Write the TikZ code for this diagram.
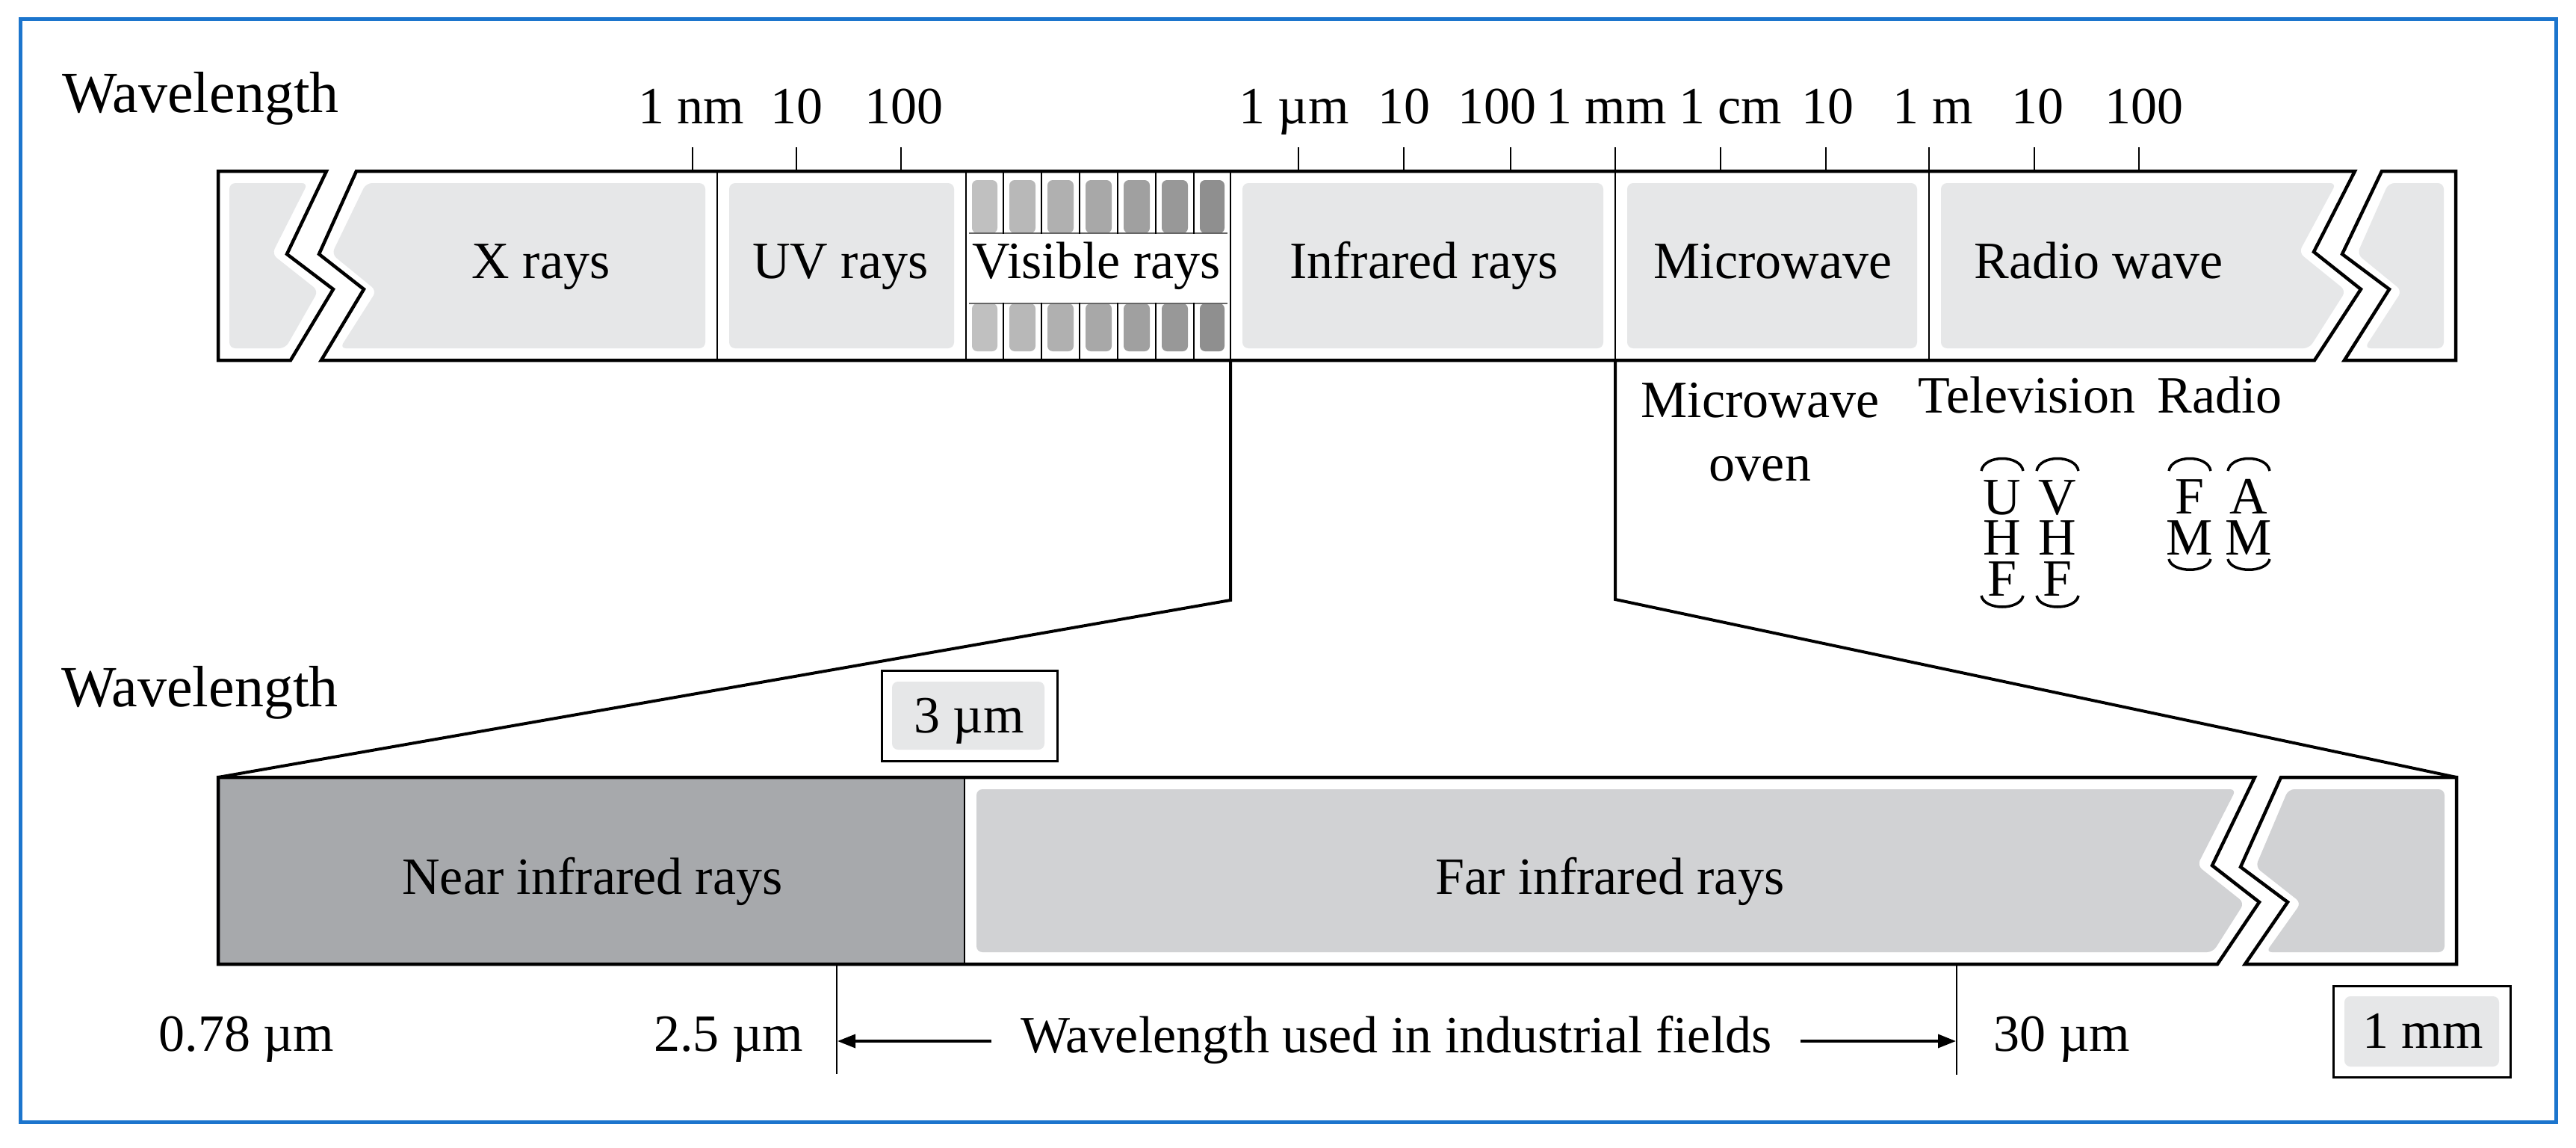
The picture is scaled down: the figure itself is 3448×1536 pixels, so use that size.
\documentclass[tikz,border=0pt]{standalone}
\usepackage{fontspec}
\setmainfont{Liberation Serif}
\usetikzlibrary{arrows.meta}
\definecolor{frameblue}{RGB}{28,117,205}
\definecolor{barfill}{RGB}{230,231,232}
\definecolor{farfill}{RGB}{209,210,212}
\definecolor{nearfill}{RGB}{167,169,172}
\newcommand{\toparc}[1]{\draw[arcst] (#1-28,630) .. controls (#1-24,608) and (#1+24,608) .. (#1+28,630);}
\newcommand{\botarc}[3]{\draw[arcst] (#1-28,#2) .. controls (#1-24,#3) and (#1+24,#3) .. (#1+28,#2);}
\begin{document}
\begin{tikzpicture}[x=1pt,y=-1pt,
  lbl/.style={font=\fontsize{70}{76}\selectfont,inner sep=0pt,anchor=base},
  colst/.style={font=\fontsize{70}{54.5}\selectfont,inner sep=0pt,anchor=base,align=center},
  ttl/.style={font=\fontsize{78}{84}\selectfont,inner sep=0pt,anchor=base west},
  barline/.style={line width=4.5pt,line join=miter},
  divline/.style={line width=2.5pt},
  tickline/.style={line width=2.5pt},
  conn/.style={line width=4pt,line join=miter},
  arcst/.style={line width=3.5pt},
  boxst/.style={line width=3pt},
  arr/.style={line width=3.5pt,-{Triangle[length=24pt,width=18pt]}},
  rc/.style={rounded corners=8pt}]
\useasboundingbox (0,0) rectangle (3448,1536);
\fill[white] (0,0) rectangle (3448,1536);
\draw[frameblue,line width=5pt] (27,26) rectangle (3421,1501);

% ---------- top bar fills ----------
\fill[barfill,rc] (307,245) -- (412,245) -- (364,340) -- (426,389) -- (382,466) -- (307,466) -- cycle;
\fill[barfill,rc] (490,245) -- (944,245) -- (944,466) -- (455,466) -- (504,389) -- (444,340) -- cycle;
\fill[barfill,rc] (976,245) rectangle (1277,466);
\fill[barfill,rc] (1663,245) rectangle (2146,466);
\fill[barfill,rc] (2178,245) rectangle (2566,466);
\fill[barfill,rc] (2598,245) -- (3127,245) -- (3077,338) -- (3140,389) -- (3091,466) -- (2598,466) -- cycle;
\fill[barfill,rc] (3197,245) -- (3271,245) -- (3271,466) -- (3165,466) -- (3215,389) -- (3155,340) -- cycle;

% visible stripes
\foreach \xa/\xb/\g in {1293/1343/192,1343/1394/184,1394/1445/176,1445/1496/168,1496/1547/160,1547/1598/152,1598/1647/143}{
  \fill[fill={rgb,255:red,\g;green,\g;blue,\g},rounded corners=7pt] (\xa+8,241) rectangle (\xb-8,312);
  \fill[fill={rgb,255:red,\g;green,\g;blue,\g},rounded corners=7pt] (\xa+8,406) rectangle (\xb-8,470);
}
\fill[white] (1297,313) rectangle (1643,405);
\draw[black!60,line width=2.5pt] (1297,312) -- (1643,312);
\draw[black!60,line width=2.5pt] (1297,406) -- (1643,406);

% ---------- top bar outlines ----------
\draw[barline] (292,229) -- (437,229) -- (384,340) -- (446,387) -- (389,482) -- (292,482) -- cycle;
\draw[barline] (477,229) -- (3152,229) -- (3097,337) -- (3160,387) -- (3098,482) -- (430,482) -- (487,387) -- (427,340) -- cycle;
\draw[barline] (3188,229) -- (3287,229) -- (3287,482) -- (3138,482) -- (3198,387) -- (3135,340) -- cycle;

% dividers
\foreach \x in {960,1293,1647,2162,2582}{\draw[divline] (\x,229) -- (\x,482);}
\foreach \x in {1343,1394,1445,1496,1547,1598}{
  \draw[divline] (\x,229) -- (\x,313);
  \draw[divline] (\x,405) -- (\x,482);}

% ticks
\foreach \x in {927,1066,1206,1738,1879,2022,2162,2303,2444,2582,2723,2863}{\draw[tickline] (\x,197) -- (\x,229);}

% ---------- top labels ----------
\node[ttl] (wl1) at (83,150) {Wavelength};
\node[lbl] (t1) at (925,165) {1 nm};
\node[lbl] (t2) at (1066,165) {10};
\node[lbl] (t3) at (1210,165) {100};
\node[lbl] (t4) at (1732,165) {1 µm};
\node[lbl] (t5) at (1879,165) {10};
\node[lbl] (t6) at (2004,165) {100};
\node[lbl] (t7) at (2150,165) {1 mm};
\node[lbl] (t8) at (2316,165) {1 cm};
\node[lbl] (t9) at (2446,165) {10};
\node[lbl] (t10) at (2587,165) {1 m};
\node[lbl] (t11) at (2727,165) {10};
\node[lbl] (t12) at (2870,165) {100};

\node[lbl] (xr) at (724,372) {X rays};
\node[lbl] (uv) at (1125,372) {UV rays};
\node[lbl] (vis) at (1468,372) {Visible rays};
\node[lbl] (ir) at (1906,372) {Infrared rays};
\node[lbl] (mw) at (2373,372) {Microwave};
\node[lbl] (rw) at (2809,372) {Radio wave};

\node[lbl] (mwo1) at (2356,558) {Microwave};
\node[lbl] (mwo2) at (2356,643) {oven};
\node[lbl] (tv) at (2713,552) {Television};
\node[lbl] (rad) at (2971,552) {Radio};

\node[colst] (uhf) at (2680,797) {U\\H\\F};
\node[colst] (vhf) at (2754,797) {V\\H\\F};
\node[colst] (fm) at (2931,742) {F\\M};
\node[colst] (am) at (3010,742) {A\\M};
\toparc{2680}\toparc{2754}\toparc{2931}\toparc{3010}
\botarc{2680}{797}{817}\botarc{2754}{797}{817}
\botarc{2931}{748}{767}\botarc{3010}{748}{767}

% ---------- connectors ----------
\coordinate (visB) at (1647,482);
\coordinate (visK) at (1647,803);
\coordinate (lowTL) at (292,1040);
\coordinate (mmB) at (2162,482);
\coordinate (mmK) at (2162,802);
\coordinate (lowTR) at (3288,1040);
\draw[conn] (visB) -- (visK) -- (lowTL);
\draw[conn] (mmB) -- (mmK) -- (lowTR);

% ---------- lower bar ----------
\fill[nearfill] (294,1042) rectangle (1290,1288);
\fill[farfill,rc] (1307,1056) -- (2993,1056) -- (2941,1158) -- (3004,1208) -- (2962,1274) -- (1307,1274) -- cycle;
\fill[farfill,rc] (3063,1056) -- (3272,1056) -- (3272,1274) -- (3033,1274) -- (3080,1208) -- (3019,1160) -- cycle;
\draw[barline] (292,1040) -- (3018,1040) -- (2961,1158) -- (3024,1207) -- (2968,1290) -- (292,1290) -- cycle;
\draw[barline] (3053,1040) -- (3288,1040) -- (3288,1290) -- (3005,1290) -- (3062,1207) -- (2999,1160) -- cycle;
\draw[divline] (1291,1040) -- (1291,1290);

\node[ttl] (wl2) at (82,945) {Wavelength};

% 3 um box
\fill[barfill,rc] (1194,912) rectangle (1398,1003);
\draw[boxst] (1180,897) rectangle (1415,1018);
\node[lbl] (b3) at (1297,980) {3 µm};

\node[lbl] (nir) at (793,1196) {Near infrared rays};
\node[lbl] (fir) at (2155,1196) {Far infrared rays};

% bottom scale
\draw[divline] (1120,1290) -- (1120,1437);
\draw[divline] (2619,1290) -- (2619,1438);
\node[lbl] (l078) at (330,1406) {0.78 µm};
\node[lbl] (l25) at (975,1406) {2.5 µm};
\node[lbl] (ind) at (1869,1408) {Wavelength used in industrial fields};
\node[lbl] (l30) at (2760,1406) {30 µm};
\coordinate (aLs) at (1327,1393);
\coordinate (aLe) at (1121,1393);
\coordinate (aRs) at (2410,1393);
\coordinate (aRe) at (2618,1393);
\draw[arr] (aLs) -- (aLe);
\draw[arr] (aRs) -- (aRe);

% 1 mm box
\fill[barfill,rc] (3138,1333) rectangle (3345,1427);
\draw[boxst] (3123,1319) rectangle (3360,1441);
\node[lbl] (b1) at (3243,1402) {1 mm};
\end{tikzpicture}
\end{document}
